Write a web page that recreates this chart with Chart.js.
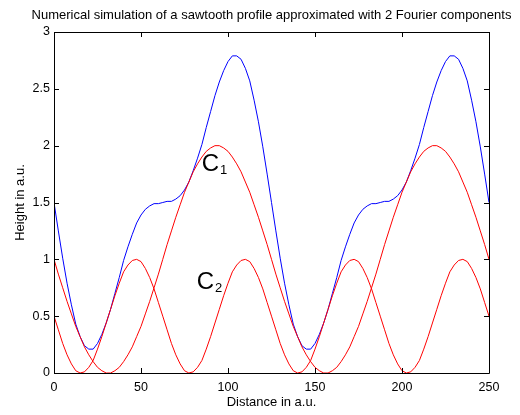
<!DOCTYPE html>
<html>
<head>
<meta charset="utf-8">
<script src="https://cdn.jsdelivr.net/npm/chart.js@4.4.1/dist/chart.umd.min.js"></script>
<style>
  html, body { margin: 0; padding: 0; background: #fff; }
  #wrap { width: 520px; height: 415px; }
</style>
</head>
<body>
<div id="wrap"><canvas id="chart" width="520" height="415"></canvas></div>
<script>
// sawtooth profile: sum of two fourier components, every 2.5 a.u.
const distance = [
  0, 2.5, 5, 7.5, 10, 12.5, 15, 17.5, 20, 22.5, 25, 27.5, 30, 32.5, 35, 37.5, 40, 42.5, 45, 47.5,
  50, 52.5, 55, 57.5, 60, 62.5, 65, 67.5, 70, 72.5, 75, 77.5, 80, 82.5, 85, 87.5, 90, 92.5, 95, 97.5,
  100, 102.5, 105, 107.5, 110, 112.5, 115, 117.5, 120, 122.5, 125, 127.5, 130, 132.5, 135, 137.5, 140, 142.5, 145, 147.5,
  150, 152.5, 155, 157.5, 160, 162.5, 165, 167.5, 170, 172.5, 175, 177.5, 180, 182.5, 185, 187.5, 190, 192.5, 195, 197.5,
  200, 202.5, 205, 207.5, 210, 212.5, 215, 217.5, 220, 222.5, 225, 227.5, 230, 232.5, 235, 237.5, 240, 242.5, 245, 247.5, 250
];

const profile = [
  1.50, 1.25, 1.01, 0.79, 0.60, 0.43, 0.32, 0.24, 0.21, 0.21, 0.26, 0.34, 0.44, 0.56, 0.70, 0.84, 0.99, 1.11, 1.22, 1.32,
  1.39, 1.44, 1.47, 1.49, 1.49, 1.50, 1.51, 1.51, 1.53, 1.56, 1.61, 1.68, 1.78, 1.89, 2.01, 2.16, 2.30, 2.44, 2.56, 2.66,
  2.74, 2.79, 2.79, 2.76, 2.68, 2.57, 2.40, 2.21, 1.99, 1.75,
  1.50, 1.25, 1.01, 0.79, 0.60, 0.43, 0.32, 0.24, 0.21, 0.21, 0.26, 0.34, 0.44, 0.56, 0.70, 0.84, 0.99, 1.11, 1.22, 1.32,
  1.39, 1.44, 1.47, 1.49, 1.49, 1.50, 1.51, 1.51, 1.53, 1.56, 1.61, 1.68, 1.78, 1.89, 2.01, 2.16, 2.30, 2.44, 2.56, 2.66,
  2.74, 2.79, 2.79, 2.76, 2.68, 2.57, 2.40, 2.21, 1.99, 1.75,
  1.50
];

const comp1 = [
  1.00, 0.87, 0.75, 0.63, 0.52, 0.41, 0.32, 0.23, 0.16, 0.10, 0.05, 0.02, 0.00, 0.00, 0.02, 0.05, 0.10, 0.16, 0.23, 0.32,
  0.41, 0.52, 0.63, 0.75, 0.87, 1.00, 1.13, 1.25, 1.37, 1.48, 1.59, 1.68, 1.77, 1.84, 1.90, 1.95, 1.98, 2.00, 2.00, 1.98,
  1.95, 1.90, 1.84, 1.77, 1.68, 1.59, 1.48, 1.37, 1.25, 1.13,
  1.00, 0.87, 0.75, 0.63, 0.52, 0.41, 0.32, 0.23, 0.16, 0.10, 0.05, 0.02, 0.00, 0.00, 0.02, 0.05, 0.10, 0.16, 0.23, 0.32,
  0.41, 0.52, 0.63, 0.75, 0.87, 1.00, 1.13, 1.25, 1.37, 1.48, 1.59, 1.68, 1.77, 1.84, 1.90, 1.95, 1.98, 2.00, 2.00, 1.98,
  1.95, 1.90, 1.84, 1.77, 1.68, 1.59, 1.48, 1.37, 1.25, 1.13,
  1.00
];

const comp2 = [
  0.50, 0.38, 0.26, 0.16, 0.08, 0.02, 0.00, 0.01, 0.05, 0.11, 0.21, 0.32, 0.44, 0.56, 0.68, 0.79, 0.89, 0.95, 0.99, 1.00,
  0.98, 0.92, 0.84, 0.74, 0.62,
  0.50, 0.38, 0.26, 0.16, 0.08, 0.02, 0.00, 0.01, 0.05, 0.11, 0.21, 0.32, 0.44, 0.56, 0.68, 0.79, 0.89, 0.95, 0.99, 1.00,
  0.98, 0.92, 0.84, 0.74, 0.62,
  0.50, 0.38, 0.26, 0.16, 0.08, 0.02, 0.00, 0.01, 0.05, 0.11, 0.21, 0.32, 0.44, 0.56, 0.68, 0.79, 0.89, 0.95, 0.99, 1.00,
  0.98, 0.92, 0.84, 0.74, 0.62,
  0.50, 0.38, 0.26, 0.16, 0.08, 0.02, 0.00, 0.01, 0.05, 0.11, 0.21, 0.32, 0.44, 0.56, 0.68, 0.79, 0.89, 0.95, 0.99, 1.00,
  0.98, 0.92, 0.84, 0.74, 0.62,
  0.50
];

const xTicks = [0, 50, 100, 150, 200, 250];
const yTicks = [0, 0.5, 1, 1.5, 2, 2.5, 3];

const titleText = "Numerical simulation of a sawtooth profile approximated with 2 Fourier components";

// text labels inside the axes, in data units (left edge, baseline)
const labels = [
  {main: "C", sub: "1", x: 85.5, y: 1.775},
  {main: "C", sub: "2", x: 82.6, y: 0.742}
];

const FONT = "'Liberation Sans', Arial, Helvetica, sans-serif";

function toPoints(ys) {
  return ys.map((y, i) => ({x: distance[i], y: y}));
}

// matlab style box with inward ticks on all four sides, title over the axes, C1 / C2 labels
const matlabAxes = {
  id: "matlabAxes",
  afterDatasetsDraw(chart) {
    const {ctx, chartArea: a, scales} = chart;
    const tick = 5;
    ctx.save();
    ctx.strokeStyle = "#000";
    ctx.lineWidth = 1;
    ctx.beginPath();
    ctx.rect(Math.round(a.left) + 0.5, Math.round(a.top) + 0.5,
      Math.round(a.right - a.left), Math.round(a.bottom - a.top));
    xTicks.forEach(v => {
      const px = Math.round(scales.x.getPixelForValue(v)) + 0.5;
      ctx.moveTo(px, a.bottom); ctx.lineTo(px, a.bottom - tick);
      ctx.moveTo(px, a.top); ctx.lineTo(px, a.top + tick);
    });
    yTicks.forEach(v => {
      const py = Math.round(scales.y.getPixelForValue(v)) + 0.5;
      ctx.moveTo(a.left, py); ctx.lineTo(a.left + tick, py);
      ctx.moveTo(a.right, py); ctx.lineTo(a.right - tick, py);
    });
    ctx.stroke();

    ctx.fillStyle = "#000";
    ctx.textAlign = "center";
    ctx.textBaseline = "middle";
    ctx.font = "13px " + FONT;
    ctx.fillText(titleText, (a.left + a.right) / 2, 15.5);

    ctx.textBaseline = "alphabetic";
    ctx.textAlign = "left";
    labels.forEach(l => {
      const px = scales.x.getPixelForValue(l.x);
      const py = scales.y.getPixelForValue(l.y);
      ctx.font = "24px " + FONT;
      ctx.fillText(l.main, px - 1, py);
      const w = ctx.measureText(l.main).width;
      ctx.font = "13px " + FONT;
      ctx.fillText(l.sub, px - 1 + w + 1, py + 3);
    });
    ctx.restore();
  }
};

new Chart(document.getElementById("chart"), {
  type: "line",
  data: {
    datasets: [
      {label: "profile", data: toPoints(profile), borderColor: "#0000ff", order: 3},
      {label: "C1", data: toPoints(comp1), borderColor: "#ff0000", order: 2},
      {label: "C2", data: toPoints(comp2), borderColor: "#ff0000", order: 1}
    ]
  },
  options: {
    responsive: false,
    animation: false,
    parsing: false,
    layout: {padding: {left: 0, right: 31, top: 32, bottom: 0}},
    elements: {
      line: {borderWidth: 1, tension: 0, fill: false},
      point: {radius: 0, hoverRadius: 0}
    },
    plugins: {
      legend: {display: false},
      tooltip: {enabled: false},
      title: {display: false}
    },
    scales: {
      x: {
        type: "linear",
        min: 0,
        max: 250,
        afterBuildTicks: s => { s.ticks = xTicks.map(v => ({value: v})); },
        afterFit: s => { s.height = 42; },
        grid: {display: false, drawTicks: false},
        border: {display: false},
        ticks: {color: "#000", padding: 7, maxRotation: 0, font: {family: FONT, size: 12.5},
          callback: v => String(v)},
        title: {
          display: true, text: "Distance in a.u.", color: "#000",
          font: {family: FONT, size: 13}, padding: {top: 0, bottom: 5}
        }
      },
      y: {
        type: "linear",
        min: 0,
        max: 3,
        afterBuildTicks: s => { s.ticks = yTicks.map(v => ({value: v})); },
        afterFit: s => { s.width = 54; },
        grid: {display: false, drawTicks: false},
        border: {display: false},
        ticks: {color: "#000", padding: 4, font: {family: FONT, size: 12.5},
          callback: v => String(v)},
        title: {
          display: true, text: "Height in a.u.", color: "#000",
          font: {family: FONT, size: 13}, padding: {top: 13, bottom: 0}
        }
      }
    }
  },
  plugins: [matlabAxes]
});
</script>
</body>
</html>
